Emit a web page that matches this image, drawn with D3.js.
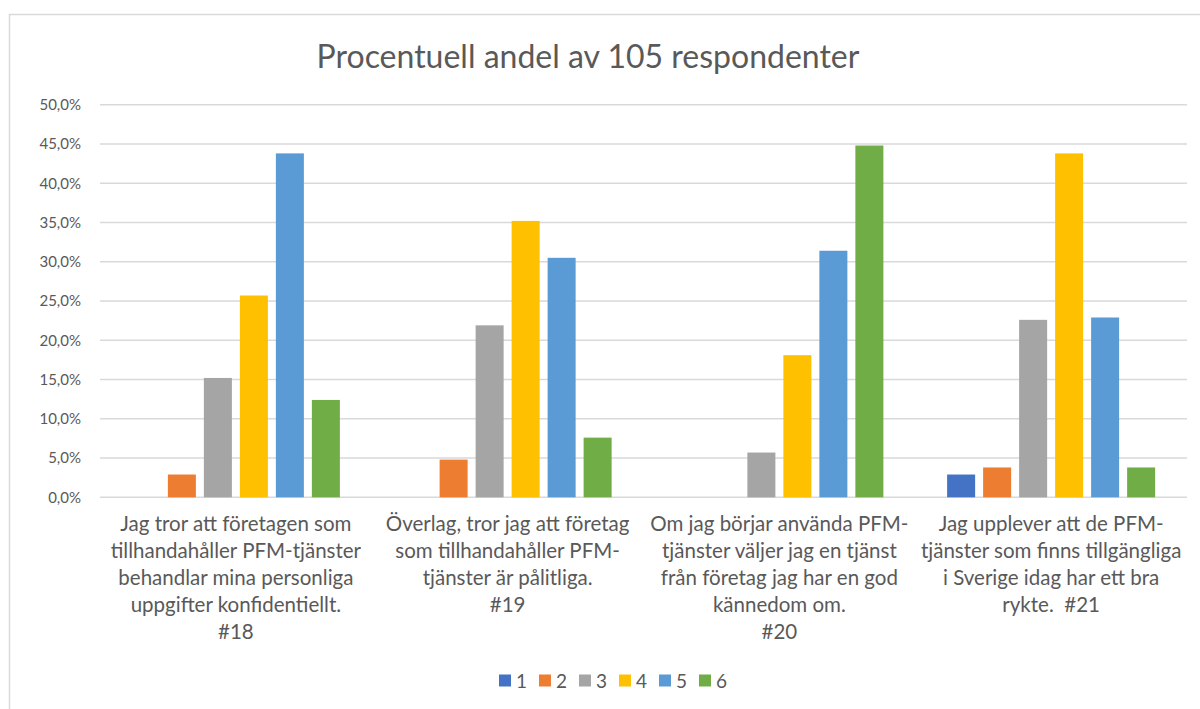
<!DOCTYPE html>
<html>
<head>
<meta charset="utf-8">
<script src="https://cdn.jsdelivr.net/npm/d3@7"></script>
<style>
  html, body { margin: 0; padding: 0; background: #fff; }
  svg { display: block; }
  text { font-family: Lato, "Open Sans", sans-serif; fill: #595959; }
</style>
</head>
<body>
<svg id="chart" width="1200" height="709"></svg>
<script>
// Question groups (x categories) and their wrapped axis labels
const categories = ["#18", "#19", "#20", "#21"];
const categoryLines = [
  ["Jag tror att företagen som", "tillhandahåller PFM-tjänster", "behandlar mina personliga", "uppgifter konfidentiellt.", "#18"],
  ["Överlag, tror jag att företag", "som tillhandahåller PFM-", "tjänster är pålitliga.", "#19"],
  ["Om jag börjar använda PFM-", "tjänster väljer jag en tjänst", "från företag jag har en god", "kännedom om.", "#20"],
  ["Jag upplever att de PFM-", "tjänster som finns tillgängliga", "i Sverige idag har ett bra", "rykte.  #21"]
];

// Answer options (series) and their shares in percent per question
const seriesNames = ["1", "2", "3", "4", "5", "6"];
const answer1 = [0, 0, 0, 2.9];
const answer2 = [2.9, 4.8, 0, 3.8];
const answer3 = [15.2, 21.9, 5.7, 22.6];
const answer4 = [25.7, 35.2, 18.1, 43.8];
const answer5 = [43.8, 30.5, 31.4, 22.9];
const answer6 = [12.4, 7.6, 44.8, 3.8];
const seriesColors = ["#4472C4", "#ED7D31", "#A5A5A5", "#FFC000", "#5B9BD5", "#70AD47"];

const yTicks = [0, 5, 10, 15, 20, 25, 30, 35, 40, 45, 50];
const title = "Procentuell andel av 105 respondenter";

const seriesValues = [answer1, answer2, answer3, answer4, answer5, answer6];

const svg = d3.select("#chart");

// Chart frame
svg.append("path")
  .attr("d", "M9.5,709 L9.5,14.5 L1200,14.5")
  .attr("fill", "none")
  .attr("stroke", "#D9D9D9")
  .attr("stroke-width", 1.5);

const plot = { left: 100, right: 1187, top: 104.7, bottom: 497.3 };

const y = d3.scaleLinear().domain([0, 50]).range([plot.bottom, plot.top]);
const x0 = d3.scaleBand().domain(categories).range([plot.left, plot.right]).padding(0);
const x1 = d3.scaleBand().domain(seriesNames).range([-108, 108]).paddingInner(0.222).paddingOuter(0.111);

// Gridlines
svg.append("g")
  .selectAll("line")
  .data(yTicks)
  .join("line")
  .attr("x1", plot.left)
  .attr("x2", plot.right)
  .attr("y1", d => y(d))
  .attr("y2", d => y(d))
  .attr("stroke", "#D9D9D9")
  .attr("stroke-width", 1.6);

// Y axis labels
const fmt = d => d3.format(".1f")(d).replace(".", ",") + "%";
svg.append("g")
  .selectAll("text")
  .data(yTicks)
  .join("text")
  .attr("x", 81)
  .attr("y", d => y(d))
  .attr("dy", "0.36em")
  .attr("text-anchor", "end")
  .style("font-size", "15px")
  .text(fmt);

// Bars
const groups = svg.append("g")
  .selectAll("g")
  .data(categories)
  .join("g")
  .attr("transform", c => `translate(${x0(c) + x0.bandwidth() / 2},0)`);

groups.selectAll("rect")
  .data((c, i) => seriesNames.map((s, j) => ({ s, v: seriesValues[j][i], color: seriesColors[j] })).filter(d => d.v > 0))
  .join("rect")
  .attr("x", d => x1(d.s))
  .attr("width", x1.bandwidth())
  .attr("y", d => y(d.v))
  .attr("height", d => y(0) - y(d.v))
  .attr("fill", d => d.color);

// Category labels
groups.append("text")
  .attr("text-anchor", "middle")
  .attr("y", 531)
  .style("font-size", "20.5px")
  .selectAll("tspan")
  .data((c, i) => categoryLines[i])
  .join("tspan")
  .attr("x", 0)
  .attr("dy", (d, i) => i === 0 ? 0 : 27)
  .attr("xml:space", "preserve")
  .style("white-space", "pre")
  .text(d => d);

// Title
svg.append("text")
  .attr("x", 588)
  .attr("y", 68)
  .attr("text-anchor", "middle")
  .style("font-size", "32px")
  .text(title);

// Legend
const legend = svg.append("g")
  .selectAll("g")
  .data(seriesNames)
  .join("g")
  .attr("transform", (d, i) => `translate(${499 + i * 40},681)`);
legend.append("rect")
  .attr("x", 0)
  .attr("y", -6.5)
  .attr("width", 12)
  .attr("height", 12)
  .attr("fill", (d, i) => seriesColors[i]);
legend.append("text")
  .attr("x", 17)
  .attr("dy", "0.36em")
  .style("font-size", "19px")
  .text(d => d);
</script>
</body>
</html>
